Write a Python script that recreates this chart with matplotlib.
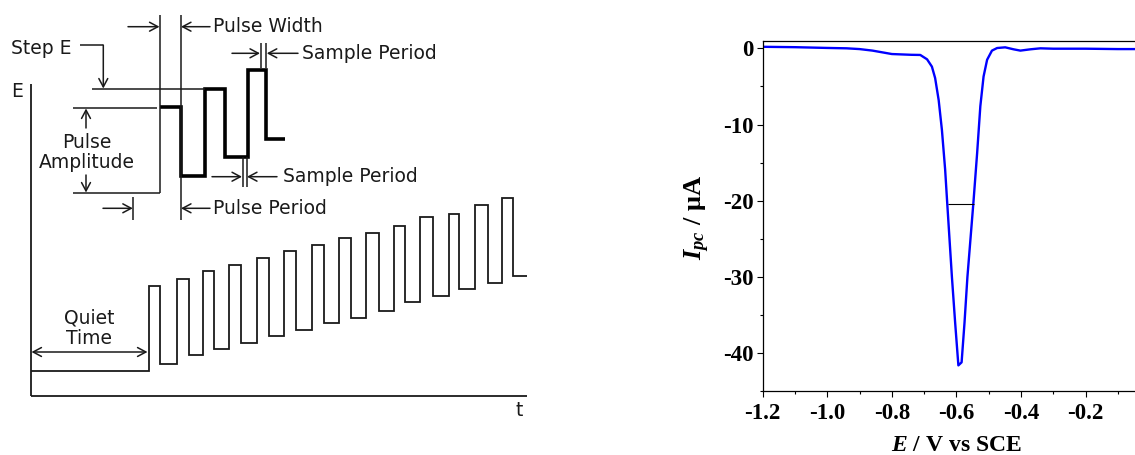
import matplotlib
matplotlib.use("Agg")
import matplotlib.pyplot as plt
from matplotlib.patches import FancyArrowPatch
from matplotlib.ticker import MultipleLocator, FixedLocator, FuncFormatter

# ---------------- data ----------------
# Differential pulse waveform (diagram units: time to the right, potential up)
quiet_start = 30.7
quiet_level = 84.3
pulse_rise_t = [148.5, 176.7, 203.3, 229.3, 256.7, 284.3, 311.7, 339.3, 366.0, 394.3, 420.0, 449.0, 475.0, 501.7]
pulse_fall_t = [160.0, 189.0, 214.0, 240.7, 269.0, 295.7, 324.0, 350.7, 379.0, 405.0, 433.3, 459.3, 487.7, 512.7]
pulse_top_e = [169.3, 175.7, 184.3, 190.3, 197.0, 203.7, 210.0, 216.7, 222.3, 229.3, 237.7, 241.3, 250.0, 256.7]
pulse_base_e = [91.0, 100.0, 106.0, 112.3, 119.0, 125.0, 131.7, 137.3, 144.0, 152.7, 159.0, 165.7, 171.7, 179.0]
waveform_end_t = 526.7

# Enlarged detail of three pulses
detail_edges = [160.0, 181.0, 205.0, 225.0, 248.3, 266.0, 285.0]
detail_levels = [347.7, 279.0, 365.7, 298.3, 385.0, 315.7]

# Voltammogram
potential_V = [-1.200, -1.100, -1.000, -0.940, -0.900, -0.860, -0.820, -0.800, -0.770,
               -0.740, -0.712, -0.691, -0.676, -0.666, -0.655, -0.645, -0.635, -0.629,
               -0.614, -0.604, -0.594, -0.584, -0.575, -0.566, -0.547, -0.536, -0.526,
               -0.516, -0.505, -0.490, -0.474, -0.449, -0.423, -0.402, -0.371, -0.340,
               -0.300, -0.200, -0.100, -0.047]
current_uA = [0.20, 0.15, 0.05, 0.00, -0.10, -0.30, -0.60, -0.75, -0.80,
              -0.85, -0.87, -1.44, -2.40, -3.90, -6.80, -10.7, -15.9, -20.0,
              -30.0, -36.0, -41.6, -41.2, -36.0, -30.0, -20.0, -13.8, -7.6,
              -3.7, -1.5, -0.30, 0.04, 0.13, -0.13, -0.30, -0.13, 0.00,
              -0.05, -0.05, -0.10, -0.10]
half_height_level = -20.4
half_height_span = (-0.625, -0.547)

x_major = [-1.2, -1.0, -0.8, -0.6, -0.4, -0.2]
y_major = [0, -10, -20, -30, -40]

# ---------------- figure ----------------
plt.rcParams['axes.unicode_minus'] = False
plt.rcParams['mathtext.fontset'] = 'custom'
plt.rcParams['mathtext.it'] = 'Liberation Serif:italic:bold'
plt.rcParams['mathtext.rm'] = 'Liberation Serif:bold'
plt.rcParams['mathtext.bf'] = 'Liberation Serif:bold'

W, H = 1135, 455
fig = plt.figure(figsize=(W / 100, H / 100), dpi=100)

# ---- left: waveform diagram ----
axl = fig.add_axes([0, 0, 560 / W, 1])
axl.set_xlim(0, 560)
axl.set_ylim(0, 455)
axl.axis('off')

ink = '#1a1a1a'
thin = 1.1
sans = dict(family='DejaVu Sans', fontsize=13.5, color=ink)

# axes of the diagram
axl.plot([30.7, 30.7], [59, 371], color=ink, lw=1.3, solid_capstyle='butt')
axl.plot([30.7, 526.7], [59, 59], color=ink, lw=1.3, solid_capstyle='butt')
axl.text(17.5, 363.5, 'E', ha='center', va='center', **sans)
axl.text(519, 45, 't', ha='center', va='center', **sans)

# staircase waveform
edges = [quiet_start]
levels = [quiet_level]
for r, f, top, base in zip(pulse_rise_t, pulse_fall_t, pulse_top_e, pulse_base_e):
    edges += [r, f]
    levels += [top, base]
edges.append(waveform_end_t)
axl.stairs(levels, edges, baseline=None, color=ink, lw=1.3)

# detail of pulses
axl.stairs(detail_levels, detail_edges, baseline=None, color='black', lw=2.6)


def seg(x0, y0, x1, y1, lw=thin):
    axl.plot([x0, x1], [y0, y1], color=ink, lw=lw, solid_capstyle='butt')


def arrow(x0, y0, x1, y1, style='->'):
    a = FancyArrowPatch((x0, y0), (x1, y1),
                        arrowstyle=style + ',head_length=0.6,head_width=0.32',
                        mutation_scale=10, color=ink, lw=thin,
                        shrinkA=0, shrinkB=0)
    axl.add_patch(a)


# guide lines
seg(160, 440, 160, 261.7)
seg(180.5, 440, 180.5, 235)
seg(73, 347.2, 157, 347.2)
seg(73, 261.7, 160, 261.7)
seg(91.7, 365.7, 205, 365.7)

# Step E
axl.text(11, 407, 'Step E', ha='left', va='center', **sans)
seg(80, 410, 103.3, 410)
arrow(103.3, 410, 103.3, 366.5)

# Pulse Amplitude
arrow(86, 327, 86, 346.5)
arrow(86, 280, 86, 262.5)
axl.text(87, 312, 'Pulse', ha='center', va='center', **sans)
axl.text(87, 292, 'Amplitude', ha='center', va='center', **sans)

# Pulse Width
arrow(128, 428.3, 159.5, 428.3)
arrow(210, 428.3, 181, 428.3)
axl.text(213, 428.3, 'Pulse Width', ha='left', va='center', **sans)

# Pulse Period
seg(133.3, 258, 133.3, 235)
arrow(103, 246.7, 132.8, 246.7)
arrow(210, 246.7, 181, 246.7)
axl.text(213, 246.7, 'Pulse Period', ha='left', va='center', **sans)

# Sample Period (upper)
seg(260.5, 412, 260.5, 387)
seg(266.3, 412, 266.3, 387)
arrow(232, 401.7, 260, 401.7)
arrow(298, 401.7, 266.8, 401.7)
axl.text(302, 401.7, 'Sample Period', ha='left', va='center', **sans)

# Sample Period (lower)
seg(242.5, 298, 242.5, 268.5)
seg(246.5, 298, 246.5, 268.5)
arrow(212, 278.3, 242, 278.3)
arrow(277, 278.3, 247, 278.3)
axl.text(283, 278.3, 'Sample Period', ha='left', va='center', **sans)

# Quiet Time
arrow(31.5, 103, 147.5, 103, style='<->')
axl.text(89, 137, 'Quiet', ha='center', va='center', **sans)
axl.text(89, 116, 'Time', ha='center', va='center', **sans)

# ---- right: voltammogram ----
x0, x1 = 762.7, 1135.0
y_top, y_bot = 40.7, 391.3
axr = fig.add_axes([x0 / W, 1 - y_bot / H, (x1 - x0) / W, (y_bot - y_top) / H])
axr.plot(potential_V, current_uA, color='#0000ff', lw=1.7)
axr.hlines(half_height_level, half_height_span[0], half_height_span[1], color='black', lw=0.8)
axr.set_xlim(-1.2, -0.047)
axr.set_ylim(-45, 1)

for s in ['left', 'bottom', 'top']:
    axr.spines[s].set_linewidth(0.9)
axr.spines['right'].set_visible(False)

axr.xaxis.set_major_locator(FixedLocator(x_major))
axr.xaxis.set_minor_locator(MultipleLocator(0.1))
axr.yaxis.set_major_locator(FixedLocator(y_major))
axr.yaxis.set_minor_locator(MultipleLocator(5))
axr.xaxis.set_major_formatter(FuncFormatter(lambda v, p: f'{v:.1f}'))
axr.yaxis.set_major_formatter(FuncFormatter(lambda v, p: f'{v:.0f}'))
axr.tick_params(which='major', direction='out', length=4.5, width=0.8, top=False, right=False)
axr.tick_params(which='minor', direction='out', length=2.4, width=0.8, top=False, right=False)
axr.tick_params(axis='x', which='major', pad=4)
axr.tick_params(axis='y', which='major', pad=2)
for lab in axr.get_xticklabels() + axr.get_yticklabels():
    lab.set_fontfamily('Liberation Serif')
    lab.set_fontweight('bold')
    lab.set_fontsize(16.5)

serif_bold = dict(family='Liberation Serif', fontweight='bold', color='black')
axr.text(0.521, -0.156, r'$E$ / V vs SCE', transform=axr.transAxes,
         ha='center', va='center', fontsize=17, **serif_bold)
axr.text(-0.1765, 0.497, r'$I_{pc}$ / μA', transform=axr.transAxes,
         ha='center', va='center', rotation=90, fontsize=19, **serif_bold)

fig.savefig('out.png', dpi=100)
